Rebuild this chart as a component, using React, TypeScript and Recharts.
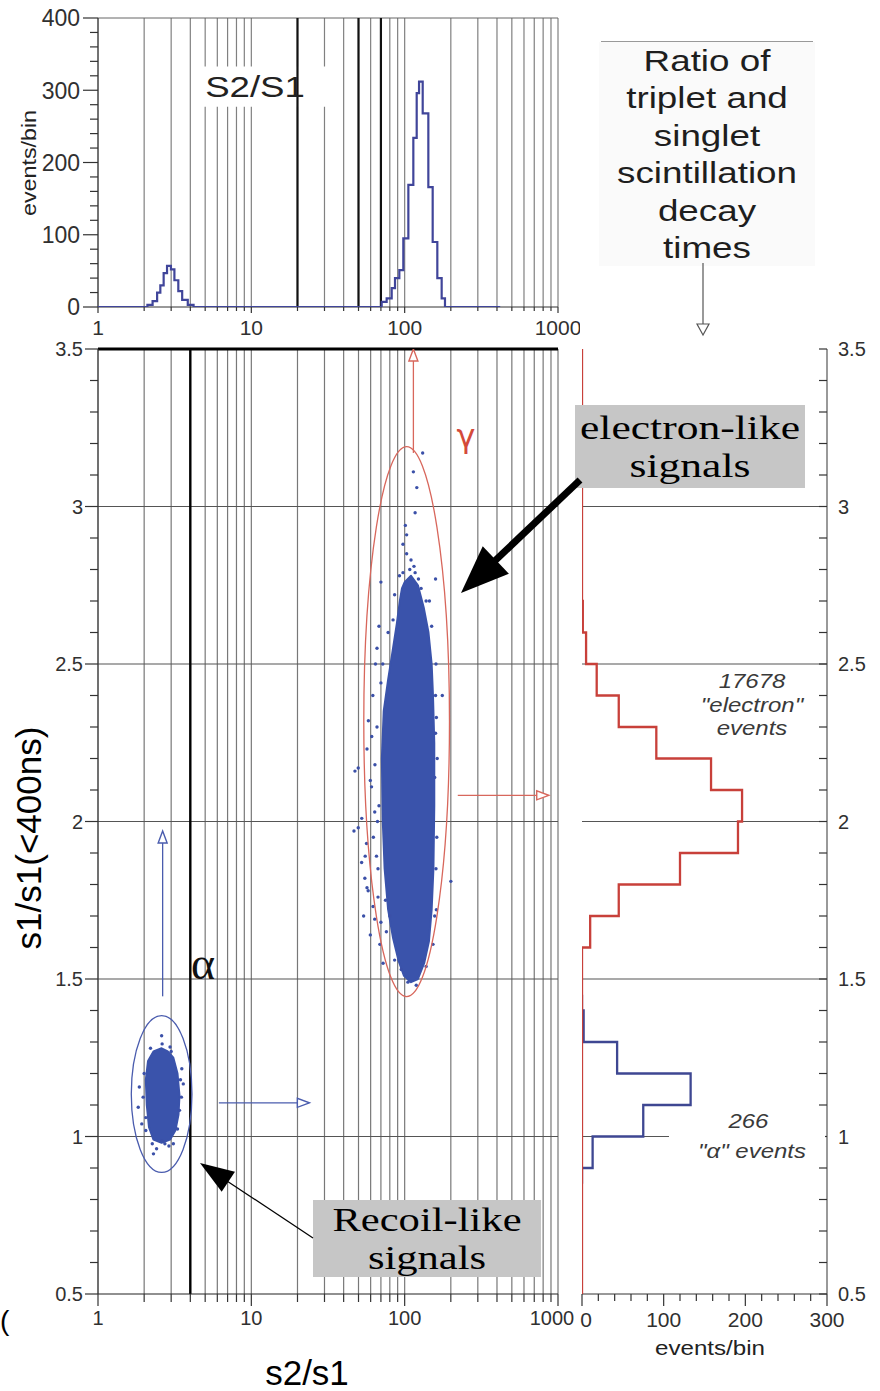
import React from 'react';
import { ScatterChart, Scatter, XAxis, YAxis, CartesianGrid, ReferenceLine, ReferenceArea } from 'recharts';

const SANS = "'Liberation Sans', Arial, Helvetica, sans-serif";
const SERIF = "'Liberation Serif', 'Times New Roman', Times, serif";

// ---------- shared log axis (s2/s1) ----------
const logTicks = [1, 2, 3, 4, 5, 6, 7, 8, 9, 10, 20, 30, 40, 50, 60, 70, 80, 90, 100, 200, 300, 400, 500, 600, 700, 800, 900, 1000];
const decadeLabels = [1, 10, 100, 1000];

// ---------- top histogram: S2/S1 ----------
const topYTicks = [0, 20, 40, 60, 80, 100, 120, 140, 160, 180, 200, 220, 240, 260, 280, 300, 320, 340, 360, 380, 400];
const topYLabels = [0, 100, 200, 300, 400];
const topThickLines = [20, 50, 70];
const topHistStart = 1;
const topHistEnd = 420;
const alphaPeakEdges = [2.1, 2.27, 2.43, 2.55, 2.68, 2.82, 2.99, 3.15, 3.34, 3.54, 3.85, 4.2];
const alphaPeakCounts = [3, 8, 20, 30, 47, 57, 52, 37, 22, 10, 3];
const gammaPeakEdges = [70.8, 76.3, 82.3, 86.5, 92.3, 98.0, 105.7, 113.9, 119.8, 124.1, 131.1, 142.7, 152.3, 163.3, 174.3, 183.2];
const gammaPeakCounts = [7, 12, 26, 40, 51, 95, 169, 234, 296, 312, 268, 166, 90, 40, 12];

// ---------- main scatter: s1/s1(<400ns) vs s2/s1 ----------
const mainYTicks = [0.5, 0.6, 0.7, 0.8, 0.9, 1.0, 1.1, 1.2, 1.3, 1.4, 1.5, 1.6, 1.7, 1.8, 1.9, 2.0, 2.1, 2.2, 2.3, 2.4, 2.5, 2.6, 2.7, 2.8, 2.9, 3.0, 3.1, 3.2, 3.3, 3.4, 3.5];
const mainYLabels = [0.5, 1, 1.5, 2, 2.5, 3, 3.5];
const mainGridY = [1, 1.5, 2, 2.5, 3];
const alphaCutX = 4;

// dense core of the electron-like (gamma) population, outline
const gammaCore = [
  { x: 100, y: 2.76 }, { x: 110, y: 2.78 }, { x: 122, y: 2.75 }, { x: 133, y: 2.68 }, { x: 143, y: 2.6 },
  { x: 150, y: 2.5 }, { x: 153, y: 2.4 }, { x: 156, y: 2.25 }, { x: 156, y: 2.05 }, { x: 154, y: 1.85 },
  { x: 150, y: 1.72 }, { x: 144, y: 1.62 }, { x: 134, y: 1.55 }, { x: 122, y: 1.5 }, { x: 110, y: 1.49 },
  { x: 99, y: 1.51 }, { x: 91, y: 1.56 }, { x: 84, y: 1.63 }, { x: 78, y: 1.72 }, { x: 74, y: 1.85 },
  { x: 72, y: 2.0 }, { x: 71, y: 2.2 }, { x: 73, y: 2.35 }, { x: 78, y: 2.45 }, { x: 84, y: 2.55 },
  { x: 89, y: 2.63 }, { x: 93, y: 2.7 }, { x: 96, y: 2.74 },
];
// individually visible gamma events
const gammaDots = [
  { x: 131, y: 3.17 }, { x: 114, y: 3.11 }, { x: 120, y: 3.06 }, { x: 117, y: 2.98 }, { x: 101, y: 2.94 },
  { x: 103, y: 2.91 }, { x: 97.5, y: 2.88 }, { x: 103, y: 2.85 }, { x: 110, y: 2.83 }, { x: 115, y: 2.81 },
  { x: 159, y: 2.77 }, { x: 70, y: 2.76 }, { x: 92.5, y: 2.78 }, { x: 108, y: 2.8 }, { x: 117, y: 2.79 },
  { x: 123, y: 2.77 }, { x: 86, y: 2.72 }, { x: 97.5, y: 2.79 }, { x: 128, y: 2.74 }, { x: 138, y: 2.7 },
  { x: 66, y: 2.55 }, { x: 64.5, y: 2.5 }, { x: 70, y: 2.44 }, { x: 58, y: 2.32 }, { x: 47.4, y: 2.16 },
  { x: 56.8, y: 2.23 }, { x: 59.7, y: 2.13 }, { x: 52.5, y: 2.01 }, { x: 55.3, y: 1.89 }, { x: 46.7, y: 1.97 },
  { x: 56.8, y: 1.79 }, { x: 54, y: 1.7 }, { x: 59.7, y: 1.64 }, { x: 49.8, y: 2.17 }, { x: 49.8, y: 1.98 },
  { x: 52.4, y: 1.87 }, { x: 56.4, y: 1.93 }, { x: 55, y: 1.82 }, { x: 57.8, y: 1.78 }, { x: 62.2, y: 1.73 },
  { x: 63.8, y: 1.69 }, { x: 68.9, y: 1.61 }, { x: 72.3, y: 1.55 }, { x: 76, y: 1.65 }, { x: 65.5, y: 1.89 },
  { x: 60.8, y: 2.11 }, { x: 63.8, y: 2.03 }, { x: 62, y: 2.4 }, { x: 61, y: 2.27 }, { x: 64, y: 2.18 },
  { x: 66.5, y: 2.0 }, { x: 62.5, y: 1.95 }, { x: 67, y: 1.76 }, { x: 70, y: 1.68 }, { x: 68, y: 2.62 },
  { x: 159, y: 2.4 }, { x: 176, y: 2.4 }, { x: 159, y: 2.28 }, { x: 200, y: 1.81 }, { x: 161, y: 2.33 },
  { x: 157, y: 2.14 }, { x: 161, y: 1.72 }, { x: 153, y: 1.61 }, { x: 138, y: 1.54 }, { x: 119, y: 1.48 },
  { x: 105, y: 1.49 }, { x: 95, y: 1.53 }, { x: 86, y: 1.56 }, { x: 131.5, y: 1.56 },
  { x: 66, y: 2.3 }, { x: 68, y: 2.05 }, { x: 67, y: 1.85 }, { x: 72, y: 2.5 }, { x: 78, y: 2.6 },
  { x: 84, y: 2.64 }, { x: 160, y: 2.5 }, { x: 163, y: 2.2 }, { x: 162, y: 1.95 }, { x: 160, y: 1.85 },
  { x: 157, y: 1.7 }, { x: 150, y: 2.62 }, { x: 145, y: 2.7 }, { x: 80, y: 1.7 }, { x: 75, y: 1.75 },
];
// dense core of the recoil-like (alpha) population, outline
const alphaCore = [
  { x: 2.3, y: 1.27 }, { x: 2.6, y: 1.28 }, { x: 2.85, y: 1.27 }, { x: 3.1, y: 1.25 }, { x: 3.3, y: 1.2 },
  { x: 3.4, y: 1.13 }, { x: 3.35, y: 1.07 }, { x: 3.2, y: 1.02 }, { x: 2.95, y: 0.99 }, { x: 2.6, y: 0.98 },
  { x: 2.3, y: 0.99 }, { x: 2.15, y: 1.03 }, { x: 2.08, y: 1.1 }, { x: 2.05, y: 1.18 }, { x: 2.12, y: 1.24 },
];
const alphaDots = [
  { x: 2.62, y: 1.294 }, { x: 2.95, y: 1.284 }, { x: 2.6, y: 1.32 }, { x: 3.52, y: 1.215 }, { x: 3.6, y: 1.167 },
  { x: 1.86, y: 1.157 }, { x: 1.83, y: 1.093 }, { x: 1.97, y: 1.125 }, { x: 1.93, y: 1.04 }, { x: 2.05, y: 1.019 },
  { x: 2.26, y: 0.977 }, { x: 2.41, y: 0.961 }, { x: 2.73, y: 0.977 }, { x: 3.1, y: 0.977 }, { x: 2.3, y: 0.945 },
  { x: 3.5, y: 1.125 }, { x: 3.4, y: 1.083 }, { x: 3.3, y: 1.024 }, { x: 2.62, y: 0.987 }, { x: 2.0, y: 1.2 },
  { x: 2.2, y: 1.28 }, { x: 3.0, y: 1.27 }, { x: 3.45, y: 1.18 }, { x: 2.05, y: 1.06 }, { x: 2.9, y: 0.97 },
];
// selection ellipses: centre, top, right-edge
const gammaEllipse = [{ x: 103, y: 2.317 }, { x: 103, y: 3.19 }, { x: 196, y: 2.317 }];
const alphaEllipse = [{ x: 2.6, y: 1.135 }, { x: 2.6, y: 1.384 }, { x: 4.1, y: 1.135 }];
// projection arrows: start, tip
const gammaUpArrow = [{ x: 114, y: 3.17 }, { x: 114, y: 3.5 }];
const gammaRightArrow = [{ x: 222, y: 2.083 }, { x: 870, y: 2.083 }];
const alphaUpArrow = [{ x: 2.64, y: 1.445 }, { x: 2.64, y: 1.97 }];
const alphaRightArrow = [{ x: 6.14, y: 1.107 }, { x: 23.9, y: 1.107 }];

// ---------- right histogram: ratio of triplet/singlet ----------
const rhXTicks = [0, 20, 40, 60, 80, 100, 120, 140, 160, 180, 200, 220, 240, 260, 280, 300];
const rhXLabels = [0, 100, 200, 300];
const redEdges = [3.5, 2.7, 2.6, 2.5, 2.4, 2.3, 2.2, 2.1, 2.0, 1.9, 1.8, 1.7, 1.6, 0.5];
const redCounts = [0, 1, 5, 18, 45, 91, 158, 196, 191, 120, 45, 10, 0];
const blueEdges = [1.45, 1.4, 1.3, 1.2, 1.1, 1.0, 0.9, 0.85];
const blueCounts = [0, 2, 43, 133, 75, 13, 0];

// ---------- helpers ----------
function stepsAlongX(edges: number[], counts: number[]) {
  const pts: { x: number; y: number }[] = [{ x: edges[0], y: 0 }];
  counts.forEach((c, i) => { pts.push({ x: edges[i], y: c }, { x: edges[i + 1], y: c }); });
  pts.push({ x: edges[edges.length - 1], y: 0 });
  return pts;
}
function stepsAlongY(edges: number[], counts: number[]) {
  const pts: { x: number; y: number }[] = [];
  counts.forEach((c, i) => { pts.push({ x: c, y: edges[i] }, { x: c, y: edges[i + 1] }); });
  return pts;
}
const topHist = [
  { x: topHistStart, y: 0 },
  ...stepsAlongX(alphaPeakEdges, alphaPeakCounts),
  ...stepsAlongX(gammaPeakEdges, gammaPeakCounts),
  { x: topHistEnd, y: 0 },
];
const redHist = stepsAlongY(redEdges, redCounts);
const blueHist = stepsAlongY(blueEdges, blueCounts);

const near = (arr: number[], v: number) => arr.some((a) => Math.abs(a - v) < 1e-6);
const noMarker = () => <g />;
const dot = (p: any) => <circle cx={p.cx} cy={p.cy} r={1.7} fill="#3b50a8" />;

const polyLine = (stroke: string, w: number) => (p: any) => (
  <polyline points={(p.points || []).map((q: any) => `${q.x},${q.y}`).join(' ')} fill="none" stroke={stroke} strokeWidth={w} strokeLinejoin="miter" />
);
const fillPoly = (color: string) => (p: any) => (
  <polygon points={(p.points || []).map((q: any) => `${q.x},${q.y}`).join(' ')} fill={color} stroke={color} strokeWidth={2} strokeLinejoin="round" />
);
const ellipseLine = (color: string) => (p: any) => {
  const pts = p.points || [];
  if (pts.length < 3) return <g />;
  const [c, t, r] = pts;
  return <ellipse cx={c.x} cy={c.y} rx={Math.abs(r.x - c.x)} ry={Math.abs(c.y - t.y)} fill="none" stroke={color} strokeWidth={1.3} />;
};
const openArrow = (color: string) => (p: any) => {
  const pts = p.points || [];
  if (pts.length < 2) return <g />;
  const a = pts[0], b = pts[1];
  const dx = b.x - a.x, dy = b.y - a.y;
  const L = Math.hypot(dx, dy) || 1;
  const ux = dx / L, uy = dy / L;
  const hl = 12, hw = 9;
  const bx = b.x - ux * hl, by = b.y - uy * hl;
  const px = -uy * hw / 2, py = ux * hw / 2;
  return (
    <g>
      <line x1={a.x} y1={a.y} x2={bx} y2={by} stroke={color} strokeWidth={1.3} />
      <polygon points={`${b.x},${b.y} ${bx + px},${by + py} ${bx - px},${by - py}`} fill="#fff" stroke={color} strokeWidth={1.4} />
    </g>
  );
};

// ---------- tick renderers ----------
const bottomTick = (labels: number[], minor: number, major: number, labelDy: number, fs: number, shift: Record<string, number> = {}) => (p: any) => {
  const v = p.payload.value;
  const isMajor = near(labels, v);
  const dx = shift[String(v)] || 0;
  return (
    <g>
      <line x1={p.x} y1={p.y} x2={p.x} y2={p.y + (isMajor ? major : minor)} stroke="#333" strokeWidth={1.2} />
      {isMajor && (
        <text x={p.x + dx} y={p.y + labelDy} textAnchor="middle" fontSize={fs} fill="#303030" fontFamily={SANS}>{String(v)}</text>
      )}
    </g>
  );
};
const leftTick = (labels: number[], minor: number, major: number, gap: number, fs: number) => (p: any) => {
  const v = p.payload.value;
  const isMajor = near(labels, v);
  return (
    <g>
      <line x1={p.x - (isMajor ? major : minor)} y1={p.y} x2={p.x} y2={p.y} stroke="#333" strokeWidth={1.2} />
      {isMajor && (
        <text x={p.x - gap} y={p.y + fs * 0.36} textAnchor="end" fontSize={fs} fill="#303030" fontFamily={SANS}>{String(v)}</text>
      )}
    </g>
  );
};
const rightTick = (labels: number[], len: number, gap: number, fs: number) => (p: any) => {
  const v = p.payload.value;
  const isMajor = near(labels, v);
  return (
    <g>
      <line x1={p.x - len} y1={p.y} x2={p.x} y2={p.y} stroke="#333" strokeWidth={1.2} />
      {isMajor && (
        <text x={p.x + gap} y={p.y + fs * 0.36} textAnchor="start" fontSize={fs} fill="#303030" fontFamily={SANS}>{String(v)}</text>
      )}
    </g>
  );
};

function Callout({ from, to, shaft, headLen, headW }: { from: number[]; to: number[]; shaft: number; headLen: number; headW: number }) {
  const dx = to[0] - from[0], dy = to[1] - from[1];
  const L = Math.hypot(dx, dy);
  const ux = dx / L, uy = dy / L;
  const bx = to[0] - ux * headLen, by = to[1] - uy * headLen;
  const px = -uy * headW / 2, py = ux * headW / 2;
  return (
    <g>
      <line x1={from[0]} y1={from[1]} x2={bx + ux * 3} y2={by + uy * 3} stroke="#000" strokeWidth={shaft} />
      <polygon points={`${to[0]},${to[1]} ${bx + px},${by + py} ${bx - px},${by - py}`} fill="#000" />
    </g>
  );
}

export default function App() {
  return (
    <div style={{ position: 'absolute', left: 0, top: 0, width: 880, height: 1391, background: '#fff', overflow: 'hidden', fontFamily: SANS }}>
      {/* top histogram */}
      <div style={{ position: 'absolute', left: 0, top: 0 }}>
        <ScatterChart width={580} height={345} margin={{ top: 18, right: 22, bottom: 8, left: 18 }}>
          <CartesianGrid horizontal={false} stroke="#808080" strokeWidth={1.2} />
          <XAxis type="number" dataKey="x" scale="log" domain={[1, 1000]} ticks={logTicks} interval={0} allowDataOverflow
            height={30} tickSize={0} tickMargin={0} tickLine={false} axisLine={{ stroke: '#333' }} tick={bottomTick(decadeLabels, 4, 6, 28, 21)} />
          <YAxis type="number" dataKey="y" domain={[0, 400]} ticks={topYTicks} interval={0} allowDataOverflow
            width={80} tickSize={0} tickMargin={0} tickLine={false} axisLine={{ stroke: '#333' }} tick={leftTick(topYLabels, 8, 15, 18, 23)} />
          <ReferenceArea x1={4.4} x2={34} y1={277} y2={333} fill="#fff" fillOpacity={1} stroke="none" />
          <ReferenceLine y={400} stroke="#666" strokeWidth={1} />
          {topThickLines.map((v) => (
            <ReferenceLine key={v} x={v} stroke="#111" strokeWidth={2.2} />
          ))}
          <Scatter data={topHist} line={polyLine('#40459a', 2.2)} lineType="joint" shape={noMarker} isAnimationActive={false} />
        </ScatterChart>
      </div>

      {/* main scatter */}
      <div style={{ position: 'absolute', left: 0, top: 330 }}>
        <ScatterChart width={580} height={1061} margin={{ top: 19, right: 22, bottom: 57, left: 18 }}>
          <CartesianGrid horizontal={false} stroke="#787878" strokeWidth={1.2} />
          <XAxis type="number" dataKey="x" scale="log" domain={[1, 1000]} ticks={logTicks} interval={0} allowDataOverflow
            height={40} tickSize={0} tickMargin={0} tickLine={false} axisLine={{ stroke: '#222', strokeWidth: 1.2 }}
            tick={bottomTick(decadeLabels, 8, 12, 31, 20, { '1000': -6 })} />
          <YAxis type="number" dataKey="y" domain={[0.5, 3.5]} ticks={mainYTicks} interval={0} allowDataOverflow
            width={80} tickSize={0} tickMargin={0} tickLine={false} axisLine={{ stroke: '#333' }} tick={leftTick(mainYLabels, 8, 13, 15, 20)} />
          {mainGridY.map((v) => (
            <ReferenceLine key={v} y={v} stroke="#555" strokeWidth={1.2} />
          ))}
          <ReferenceLine y={3.5} stroke="#000" strokeWidth={3} />
          <ReferenceLine x={alphaCutX} stroke="#000" strokeWidth={2.4} />
          <Scatter data={gammaCore} line={fillPoly('#3a53ab')} lineType="joint" shape={noMarker} isAnimationActive={false} />
          <Scatter data={alphaCore} line={fillPoly('#3a53ab')} lineType="joint" shape={noMarker} isAnimationActive={false} />
          <Scatter data={gammaDots} shape={dot} isAnimationActive={false} />
          <Scatter data={alphaDots} shape={dot} isAnimationActive={false} />
          <Scatter data={gammaEllipse} line={ellipseLine('#d8675c')} lineType="joint" shape={noMarker} isAnimationActive={false} />
          <Scatter data={alphaEllipse} line={ellipseLine('#4a5cae')} lineType="joint" shape={noMarker} isAnimationActive={false} />
          <Scatter data={gammaUpArrow} line={openArrow('#d8675c')} lineType="joint" shape={noMarker} isAnimationActive={false} />
          <Scatter data={gammaRightArrow} line={openArrow('#d8675c')} lineType="joint" shape={noMarker} isAnimationActive={false} />
          <Scatter data={alphaUpArrow} line={openArrow('#4a5cae')} lineType="joint" shape={noMarker} isAnimationActive={false} />
          <Scatter data={alphaRightArrow} line={openArrow('#4a5cae')} lineType="joint" shape={noMarker} isAnimationActive={false} />
        </ScatterChart>
      </div>

      {/* right histogram */}
      <div style={{ position: 'absolute', left: 560, top: 330 }}>
        <ScatterChart width={320} height={1061} margin={{ top: 19, right: 8, bottom: 57, left: 22 }}>
          <XAxis type="number" dataKey="x" domain={[0, 300]} ticks={rhXTicks} interval={0} allowDataOverflow
            height={40} tickSize={0} tickMargin={0} tickLine={false} axisLine={{ stroke: '#333' }}
            tick={bottomTick(rhXLabels, 7, 12, 33, 21, { '0': 4 })} />
          <YAxis type="number" dataKey="y" orientation="right" domain={[0.5, 3.5]} ticks={mainYTicks} interval={0} allowDataOverflow
            width={45} tickSize={0} tickMargin={0} tickLine={false} axisLine={{ stroke: '#555', strokeWidth: 1.2 }} tick={rightTick(mainYLabels, 8, 11, 20)} />
          {mainGridY.map((v) => (
            <ReferenceLine key={v} y={v} stroke="#555" strokeWidth={1.2} />
          ))}
          <Scatter data={blueHist} line={polyLine('#3e4792', 2.3)} lineType="joint" shape={noMarker} isAnimationActive={false} />
          <Scatter data={redHist} line={polyLine('#c8403a', 2.3)} lineType="joint" shape={noMarker} isAnimationActive={false} />
        </ScatterChart>
      </div>

      {/* annotations */}
      <svg width={880} height={1391} style={{ position: 'absolute', left: 0, top: 0, pointerEvents: 'none' }}>
        {/* top histogram labels */}
        <text transform="translate(36,163) rotate(-90)" textAnchor="middle" fontSize={20} fill="#222" fontFamily={SANS}
          textLength={106} lengthAdjust="spacingAndGlyphs">events/bin</text>
        <g transform="translate(255,97) scale(1.22,1)">
          <text x={0} y={0} textAnchor="middle" fontSize={30} fill="#222" fontFamily={SANS}>S2/S1</text>
        </g>

        {/* ratio caption */}
        <rect x={599} y={42} width={216} height={224} fill="#fafafa" />
        <line x1={601} y1={41.5} x2={813} y2={41.5} stroke="#999" strokeWidth={1.2} />
        <g transform="translate(707,0) scale(1.27,1)" fontFamily={SANS} fontSize={29} fill="#1e1e1e">
          <text x={0} y={70.7} textAnchor="middle">Ratio of</text>
          <text x={0} y={108.2} textAnchor="middle">triplet and</text>
          <text x={0} y={145.7} textAnchor="middle">singlet</text>
          <text x={0} y={183.2} textAnchor="middle">scintillation</text>
          <text x={0} y={220.7} textAnchor="middle">decay</text>
          <text x={0} y={258.2} textAnchor="middle">times</text>
        </g>
        <line x1={703} y1={263} x2={703} y2={324} stroke="#555" strokeWidth={1.2} />
        <polygon points="703,335 697,324 709,324" fill="#fff" stroke="#555" strokeWidth={1.2} />

        {/* gamma / alpha labels */}
        <text x={466} y={447} textAnchor="middle" fontSize={32} fill="#d44a3a" fontFamily="'DejaVu Sans', sans-serif">γ</text>
        <text x={203} y={979} textAnchor="middle" fontSize={46} fill="#111" fontFamily={SERIF}>α</text>

        {/* electron-like callout */}
        <rect x={575} y={405} width={230} height={83} fill="#c6c6c6" />
        <g transform="translate(690,0) scale(1.32,1)" fontFamily={SERIF} fontSize={33} fill="#000">
          <text x={0} y={439} textAnchor="middle">electron-like</text>
          <text x={0} y={477} textAnchor="middle">signals</text>
        </g>
        <Callout from={[580, 480]} to={[461, 593]} shaft={7} headLen={48} headW={38} />

        {/* recoil-like callout */}
        <rect x={313} y={1200} width={228} height={77} fill="#c6c6c6" />
        <g transform="translate(427,0) scale(1.29,1)" fontFamily={SERIF} fontSize={33} fill="#000">
          <text x={0} y={1231} textAnchor="middle">Recoil-like</text>
          <text x={0} y={1269} textAnchor="middle">signals</text>
        </g>
        <Callout from={[313, 1238]} to={[200, 1163]} shaft={1.2} headLen={34} headW={24} />

        {/* right histogram event counts */}
        <g transform="translate(752,0) scale(1.2,1)" fontFamily={SANS} fontSize={20} fontStyle="italic" fill="#3a3a3a">
          <text x={0} y={688} textAnchor="middle">17678</text>
          <text x={0} y={712} textAnchor="middle">"electron"</text>
          <text x={0} y={735} textAnchor="middle">events</text>
        </g>
        <rect x={669} y={1110} width={156} height={52} fill="#fff" />
        <g transform="translate(752,0) scale(1.2,1)" fontFamily={SANS} fontSize={20} fontStyle="italic" fill="#3a3a3a">
          <text x={-3} y={1128} textAnchor="middle">266</text>
          <text x={0} y={1158} textAnchor="middle">"α" events</text>
        </g>

        {/* axis titles */}
        <text x={307} y={1385} textAnchor="middle" fontSize={35} fill="#000" fontFamily={SANS}>s2/s1</text>
        <text transform="translate(41,838) rotate(-90)" textAnchor="middle" fontSize={35} fill="#000" fontFamily={SANS}>s1/s1(&lt;400ns)</text>
        <text x={710} y={1355} textAnchor="middle" fontSize={20} fill="#222" fontFamily={SANS}
          textLength={110} lengthAdjust="spacingAndGlyphs">events/bin</text>
        <text x={0} y={1330} fontSize={28} fill="#000" fontFamily={SANS}>(</text>
      </svg>
    </div>
  );
}
